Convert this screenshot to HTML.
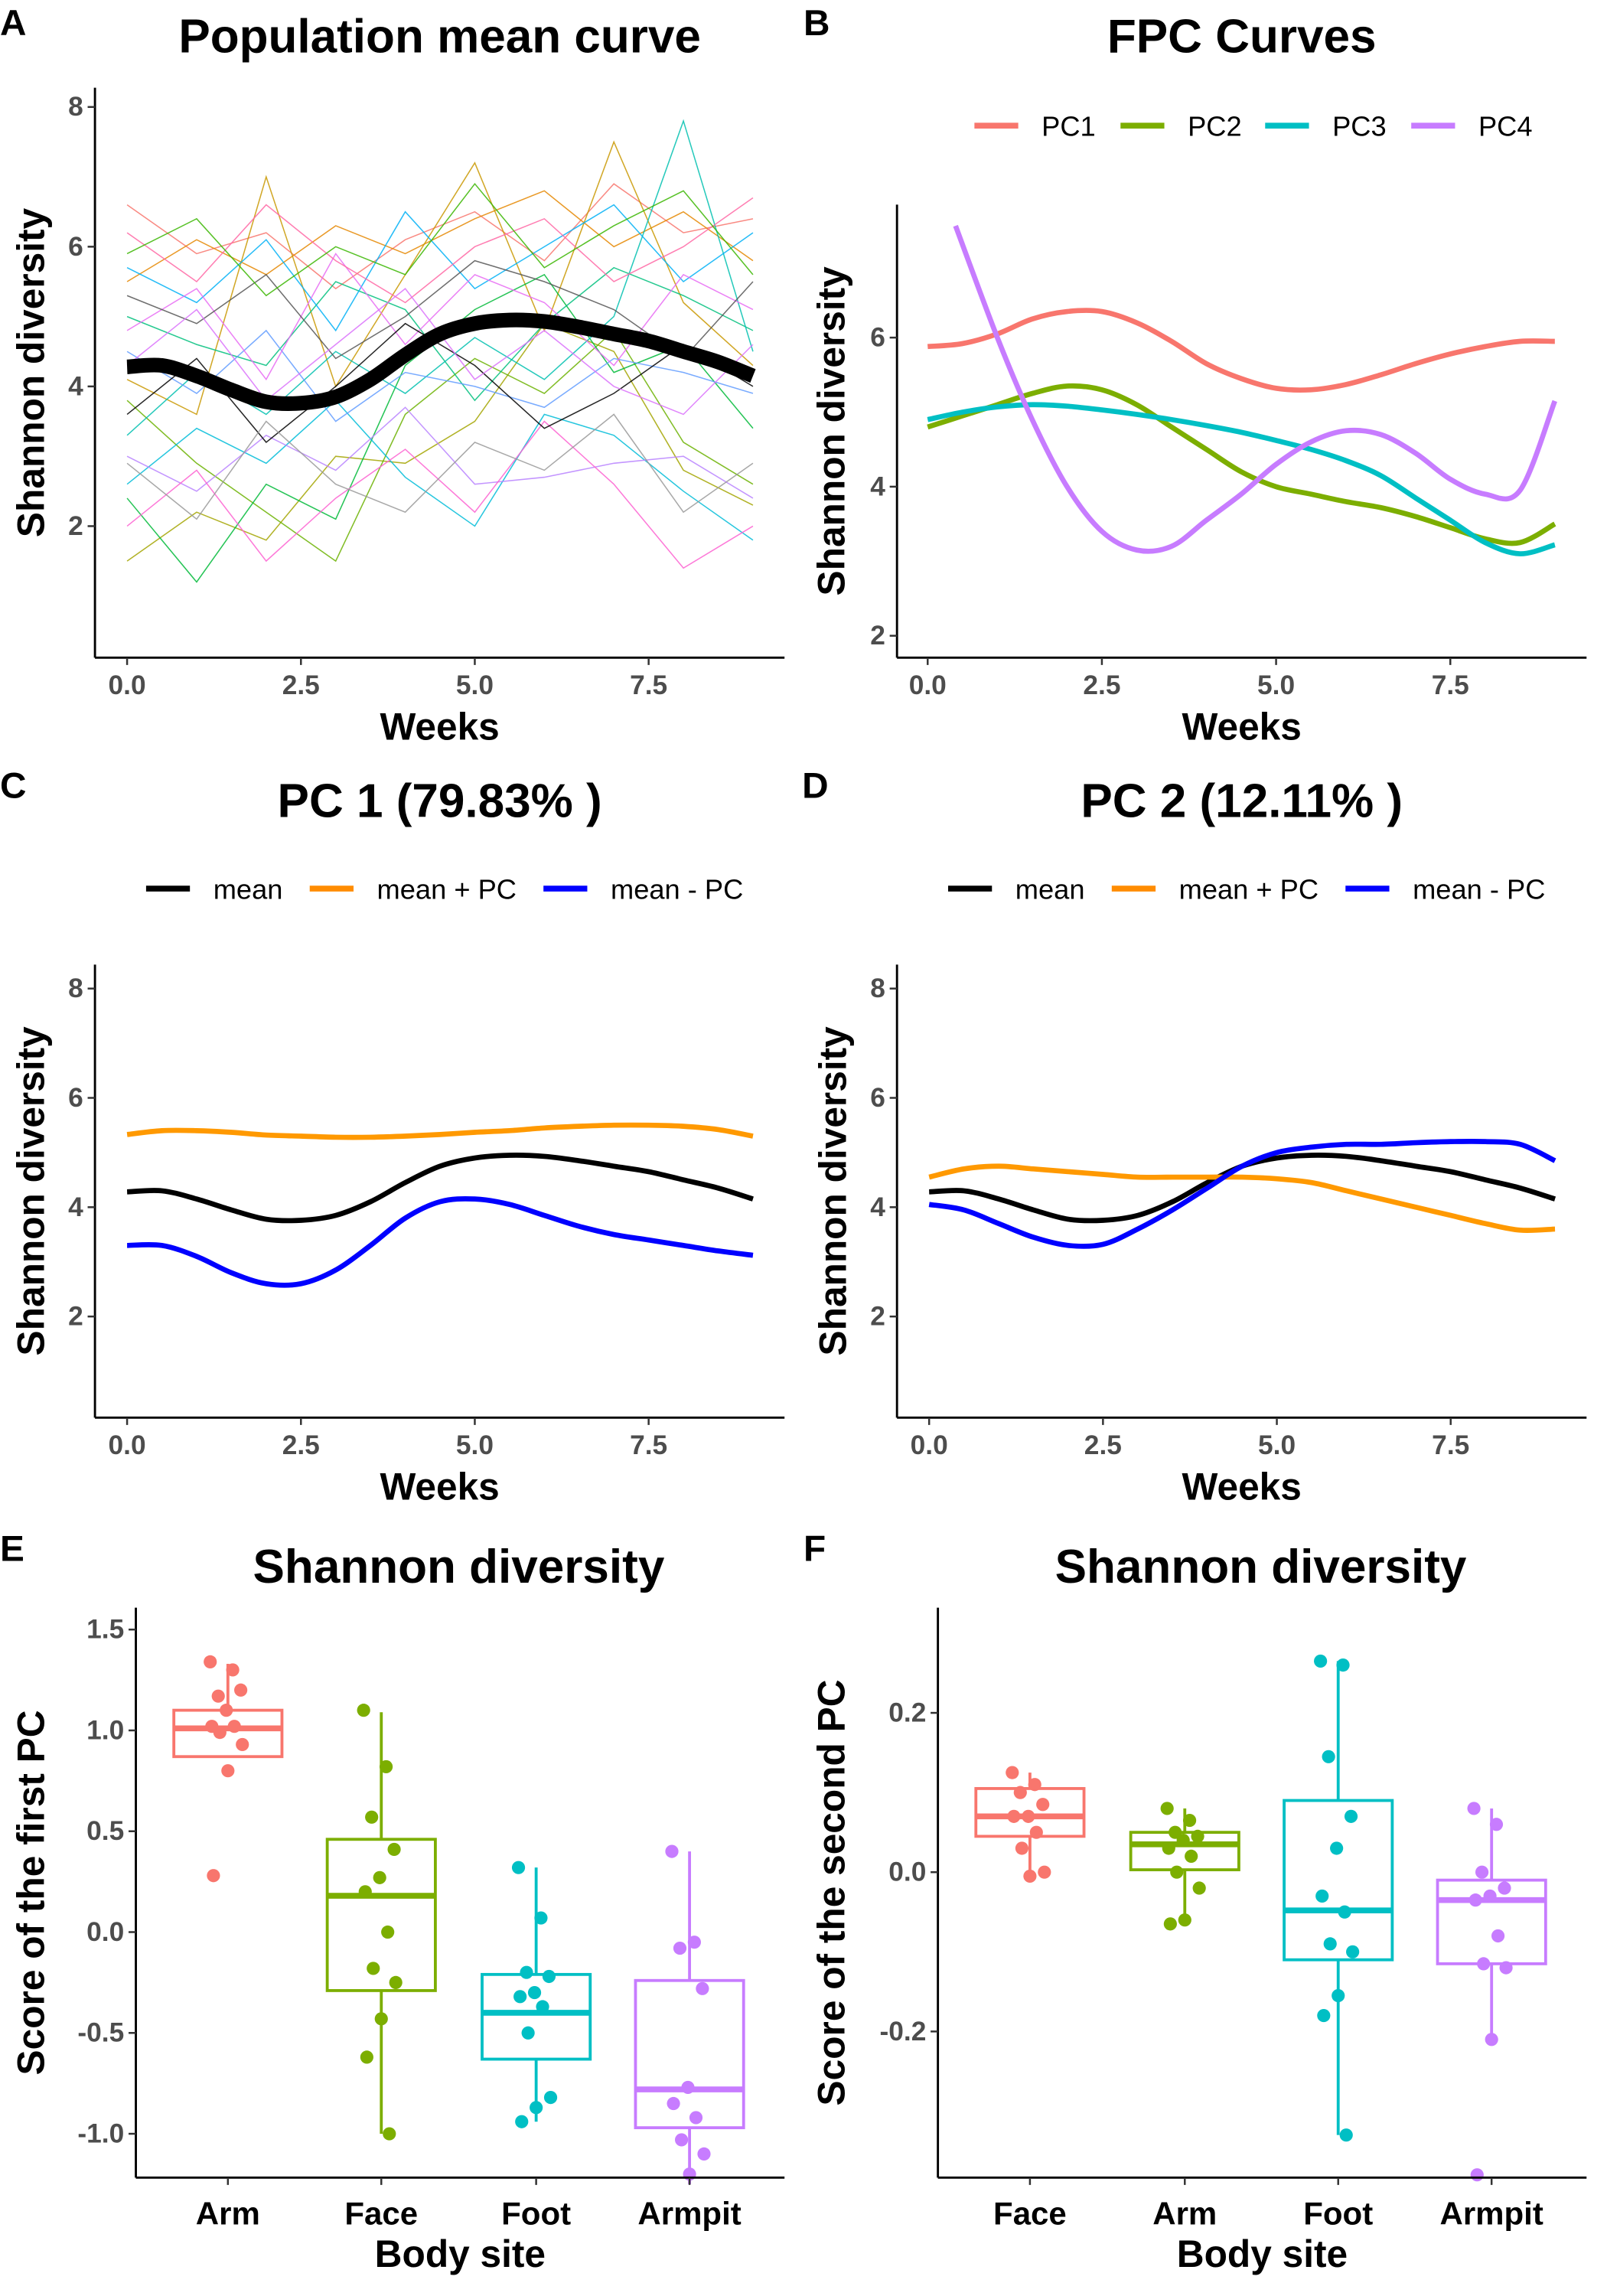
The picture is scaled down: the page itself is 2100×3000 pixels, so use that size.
<!DOCTYPE html>
<html><head><meta charset="utf-8"><style>
html,body{margin:0;padding:0;background:#fff}
svg{display:block;font-family:"Liberation Sans",Arial,sans-serif}
.tk{font-size:18.5px;fill:#4d4d4d;font-weight:bold}
.ttl{font-size:32.5px;font-weight:bold;fill:#000}
.lab{font-size:26px;font-weight:bold;fill:#000}
.cat{font-size:22px;font-weight:bold;fill:#000}
.pl{font-size:25px;font-weight:bold;fill:#000}
.lg{font-size:19px;fill:#000}
</style></head><body>
<svg id="c" width="2100" height="3000" viewBox="0 0 1100 1571" preserveAspectRatio="none" xmlns="http://www.w3.org/2000/svg"></svg>
<script>
const xs=[0,0.5,1,1.5,2,2.5,3,3.5,4,4.5,5,5.5,6,6.5,7,7.5,8,8.5,9];
const meanVals=[4.28,4.3,4.15,3.95,3.78,3.76,3.85,4.1,4.45,4.75,4.9,4.95,4.93,4.85,4.75,4.65,4.5,4.35,4.15];
const pc1MeanPlus=[5.33,5.4,5.4,5.37,5.32,5.3,5.28,5.28,5.3,5.33,5.37,5.4,5.45,5.48,5.5,5.5,5.48,5.42,5.3];
const pc1MeanMinus=[3.3,3.3,3.1,2.8,2.6,2.6,2.85,3.3,3.8,4.1,4.15,4.05,3.85,3.65,3.5,3.4,3.3,3.2,3.12];
const pc2MeanPlus=[4.55,4.7,4.75,4.7,4.65,4.6,4.55,4.55,4.55,4.55,4.52,4.45,4.3,4.15,4.0,3.85,3.7,3.58,3.6];
const pc2MeanMinus=[4.05,3.95,3.7,3.45,3.3,3.32,3.6,3.95,4.35,4.75,5.0,5.1,5.15,5.15,5.18,5.2,5.2,5.15,4.85];
const fpc1=[5.88,5.92,6.05,6.25,6.35,6.35,6.2,5.95,5.65,5.45,5.32,5.3,5.37,5.5,5.65,5.78,5.88,5.95,5.95];
const fpc2=[4.8,4.95,5.1,5.25,5.35,5.3,5.1,4.8,4.5,4.2,4.0,3.9,3.8,3.72,3.6,3.45,3.3,3.25,3.5];
const fpc3=[4.9,5.0,5.07,5.1,5.08,5.03,4.97,4.9,4.82,4.73,4.62,4.5,4.35,4.15,3.85,3.55,3.25,3.1,3.22];
const fpc4x=[0.4,1,1.5,2,2.5,3,3.5,4,4.5,5,5.5,6,6.5,7,7.5,8,8.5,9];
const fpc4=[7.5,6.0,4.9,4.0,3.4,3.15,3.2,3.55,3.9,4.3,4.6,4.75,4.7,4.45,4.1,3.9,3.95,5.15];
const subjX=[0,1,2,3,4,5,6,7,8,9];
const subjects=[
[6.6,5.9,6.2,5.4,6.1,6.5,5.8,6.9,6.2,6.4],[5.5,6.1,5.6,6.3,5.9,6.4,6.8,6.0,6.5,5.8],
[4.1,3.6,7.0,4.0,5.6,7.2,4.8,7.5,5.2,4.3],[1.5,2.2,1.8,3.0,2.9,3.5,4.9,4.5,2.8,2.3],
[3.8,2.9,2.2,1.5,3.6,4.4,3.9,4.8,3.2,2.6],[2.4,1.2,2.6,2.1,4.3,5.1,5.6,4.2,4.6,3.4],
[5.0,4.6,4.3,5.5,5.1,3.8,4.9,5.7,5.3,4.8],[3.3,4.2,3.6,4.5,3.9,4.7,4.1,5.0,7.8,4.5],
[2.6,3.4,2.9,3.8,2.7,2.0,3.6,3.3,2.5,1.8],[5.7,5.2,6.1,4.8,6.5,5.4,6.0,6.6,5.5,6.2],
[4.5,3.9,4.8,3.5,4.2,4.0,3.7,4.4,4.2,3.9],[3.0,2.5,3.3,2.8,3.7,2.6,2.7,2.9,3.0,2.4],
[4.8,5.4,4.1,5.9,4.6,5.6,5.2,4.3,5.6,5.1],[2.0,2.8,1.5,2.4,3.1,2.2,3.5,2.6,1.4,2.0],
[6.2,5.5,6.6,5.8,5.2,6.0,6.4,5.5,6.0,6.7],[3.6,4.4,3.2,4.0,4.9,4.3,3.4,3.9,4.6,4.0],
[5.3,4.9,5.6,4.4,5.0,5.8,5.5,5.1,4.4,5.5],[2.9,2.1,3.5,2.6,2.2,3.2,2.8,3.6,2.2,2.9],
[4.3,5.1,3.8,4.6,5.4,4.1,4.8,4.0,3.6,4.6],[5.9,6.4,5.3,6.0,5.6,6.9,5.7,6.3,6.8,5.6]];
const sitesE=["Arm","Face","Foot","Armpit"];
const boxE=[[0.87,1.01,1.1,0.87,1.33],[-0.29,0.18,0.46,-1.0,1.09],[-0.63,-0.4,-0.21,-0.94,0.32],[-0.97,-0.78,-0.24,-1.25,0.4]];
const ptsE=[[1.34,1.3,1.17,1.2,1.1,1.02,1.02,0.99,0.93,0.8,0.28],[1.1,0.82,0.57,0.41,0.27,0.2,0.0,-0.18,-0.25,-0.43,-0.62,-1.0],[0.32,0.07,-0.2,-0.22,-0.3,-0.32,-0.37,-0.5,-0.82,-0.87,-0.94],[0.4,-0.05,-0.08,-0.28,-0.77,-0.85,-0.92,-1.03,-1.1,-1.2]];
const sitesF=["Face","Arm","Foot","Armpit"];
const boxF=[[0.045,0.07,0.105,-0.005,0.125],[0.003,0.035,0.05,-0.065,0.08],[-0.11,-0.048,0.09,-0.33,0.265],[-0.115,-0.035,-0.01,-0.21,0.08]];
const ptsF=[[0.125,0.11,0.1,0.085,0.07,0.07,0.05,0.03,0.0,-0.005],[0.08,0.065,0.05,0.045,0.04,0.03,0.02,0.0,-0.02,-0.06,-0.065],[0.265,0.26,0.145,0.07,0.03,-0.03,-0.05,-0.09,-0.1,-0.155,-0.18,-0.33],[0.08,0.06,0.0,-0.02,-0.03,-0.035,-0.08,-0.115,-0.12,-0.21,-0.38]];
const xTicks=[0,2.5,5,7.5];
const yTicksLine=[2,4,6,8];
const yTicksE=[-1.0,-0.5,0.0,0.5,1.0,1.5];
const yTicksF=[-0.2,0.0,0.2];

const S=document.getElementById('c');const NS="http://www.w3.org/2000/svg";
function el(t,a,p){const e=document.createElementNS(NS,t);for(const k in a)e.setAttribute(k,a[k]);(p||S).appendChild(e);return e;}
function txt(s,x,y,cls,anchor,rot){const e=el('text',{x:x,y:y,class:cls,'text-anchor':anchor||'middle'});if(rot)e.setAttribute('transform',`rotate(-90 ${x} ${y})`);e.textContent=s;return e;}
function smooth(pts){let d=`M${pts[0][0]},${pts[0][1]}`;for(let i=0;i<pts.length-1;i++){const p0=pts[Math.max(0,i-1)],p1=pts[i],p2=pts[i+1],p3=pts[Math.min(pts.length-1,i+2)];d+=` C${p1[0]+(p2[0]-p0[0])/6},${p1[1]+(p2[1]-p0[1])/6} ${p2[0]-(p3[0]-p1[0])/6},${p2[1]-(p3[1]-p1[1])/6} ${p2[0]},${p2[1]}`;}return d;}
const COL=["#F8766D","#7CAE00","#00BFC4","#C77CFF"];

function axes(g,left,top,bottom,right,xt,xf,yt,yf,fmtY,xl,yl,lx){
  el('line',{x1:left,y1:top,x2:left,y2:bottom,stroke:'#000','stroke-width':1.5},g);
  el('line',{x1:left,y1:bottom,x2:right,y2:bottom,stroke:'#000','stroke-width':1.5},g);
  let num=true;
  xt.forEach((v,i)=>{const x=xf(v,i);el('line',{x1:x,y1:bottom,x2:x,y2:bottom+5,stroke:'#333','stroke-width':1.3},g);num=typeof v==='number';const t=txt(num?v.toFixed(1):v,x,bottom+(num?25:32),num?'tk':'cat');g.appendChild(t);});
  yt.forEach(v=>{const y=yf(v);el('line',{x1:left-5,y1:y,x2:left,y2:y,stroke:'#333','stroke-width':1.3},g);const t=txt(fmtY(v),left-8,y+6,'tk','end');g.appendChild(t);});
  const a=txt(xl,(left+right)/2,bottom+(num?56:61),'lab');g.appendChild(a);
  const b=txt(yl,lx,(top+bottom)/2,'lab','middle',true);g.appendChild(b);
}
function panel(name){const g=el('g',{});return g;}
function label(g,s,x,y){const t=txt(s,x,y,'pl','start');g.appendChild(t);}
function title(g,s,x,y){const t=txt(s,x,y,'ttl');g.appendChild(t);}
function line(g,X,Y,xf,yf,col,w,name){const p=el('path',{d:smooth(X.map((x,i)=>[xf(x),yf(Y[i])])),fill:'none',stroke:col,'stroke-width':w},g);return p;}
function legend(g,items,y){items.forEach(it=>{const l=el('line',{x1:it[2],y1:y,x2:it[2]+30,y2:y,stroke:it[1],'stroke-width':4},g);const t=txt(it[0],it[2]+46,y+7,'lg','start');g.appendChild(t);});}

// Panel A
{const g=panel('panel-a');const L=65,B=450,x=v=>87+v*47.6,y=v=>360-(v-2)*47.8;
label(g,'A',0,24);title(g,'Population mean curve',301,36);
const pal=["#F8766D","#E58700","#C99800","#A3A500","#6BB100","#00BA38","#00BF7D","#00C0AF","#00BCD8","#00B0F6","#619CFF","#B983FF","#E76BF3","#FD61D1","#FF67A4","#000000","#555555","#999999","#DB72FB","#39B600"];
subjects.forEach((s,i)=>{const p=el('polyline',{points:subjX.map((v,j)=>x(v)+','+y(s[j])).join(' '),fill:'none',stroke:pal[i%pal.length],'stroke-width':0.8,opacity:0.85},g);});
line(g,xs,meanVals,x,y,'#000',10,'mean-curve');
axes(g,L,60,B,537,xTicks,x,yTicksLine,y,v=>v,'Weeks','Shannon diversity',30);}
// Panel B
{const g=panel('panel-b');const L=614,B=450,x=v=>635+v*47.7,y=v=>333-(v-4)*51;
label(g,'B',550,24);title(g,'FPC Curves',850,36);
legend(g,[['PC1',COL[0],667],['PC2',COL[1],767],['PC3',COL[2],866],['PC4',COL[3],966]],86);
line(g,xs,fpc1,x,y,COL[0],3.5,'pc1-curve');line(g,xs,fpc2,x,y,COL[1],3.5,'pc2-curve');line(g,xs,fpc3,x,y,COL[2],3.5,'pc3-curve');line(g,fpc4x,fpc4,x,y,COL[3],3.5,'pc4-curve');
axes(g,L,140,B,1086,xTicks,x,[2,4,6],y,v=>v,'Weeks','Shannon diversity',578);}
// Panels C, D
[[0,'C','PC 1 (79.83% )',pc1MeanPlus,pc1MeanMinus],[549,'D','PC 2 (12.11% )',pc2MeanPlus,pc2MeanMinus]].forEach(([o,lt,tt,pl,mi])=>{
const g=panel('panel-'+lt.toLowerCase());const L=65+o,B=970,x=v=>87+o+v*47.6,y=v=>826-(v-4)*37.4;
label(g,lt,o,546);title(g,tt,301+o,559);
legend(g,[['mean','#000',100+o],['mean + PC','#FF8C00',212+o],['mean - PC','#0000FF',372+o]],608);
line(g,xs,meanVals,x,y,'#000',3.5,'mean-curve');line(g,xs,pl,x,y,'#FF9900',3.5,'mean-plus-pc-curve');line(g,xs,mi,x,y,'#0000FF',3.5,'mean-minus-pc-curve');
axes(g,L,660,B,537+o,xTicks,x,yTicksLine,y,v=>v,'Weeks','Shannon diversity',30+o);});
// Panels E, F
function boxPanel(o,lt,sites,boxes,pts,yf,yt,fmt,yl,xc){
const g=panel('panel-'+lt.toLowerCase());const L=o,B=1490;
label(g,lt,lt=='E'?0:550,1068);title(g,'Shannon diversity',lt=='E'?314:863,1083);
boxes.forEach((b,i)=>{const cx=xc[i],c=COL[i],w=37;
el('line',{x1:cx,y1:yf(b[3]),x2:cx,y2:yf(b[0]),stroke:c,'stroke-width':2},g);
el('line',{x1:cx,y1:yf(b[2]),x2:cx,y2:yf(b[4]),stroke:c,'stroke-width':2},g);
const r=el('rect',{x:cx-w,y:yf(b[2]),width:2*w,height:yf(b[0])-yf(b[2]),fill:'none',stroke:c,'stroke-width':2},g);
el('line',{x1:cx-w,y1:yf(b[1]),x2:cx+w,y2:yf(b[1]),stroke:c,'stroke-width':4},g);
pts[i].forEach((v,j)=>{const dx=((j*37)%23-11)*1.1;const p=el('circle',{cx:cx+dx,cy:yf(v),r:4.5,fill:c},g);});});
axes(g,L,1100,B,lt=='E'?537:1086,sites,(v,i)=>xc[i],yt,yf,fmt,'Body site',yl,lt=='E'?30:578);}
boxPanel(93,'E',sitesE,boxE,ptsE,v=>1322-v*138,yTicksE,v=>v.toFixed(1),'Score of the first PC',[156,261,367,472]);
boxPanel(642,'F',sitesF,boxF,ptsF,v=>1281-v*545,yTicksF,v=>v.toFixed(1),'Score of the second PC',[705,811,916,1021]);
</script>
</body></html>
